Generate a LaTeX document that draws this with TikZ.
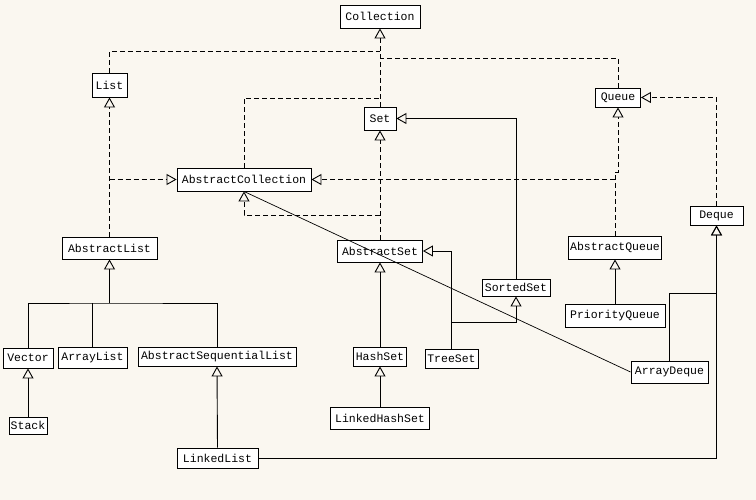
\documentclass[tikz,border=0pt]{standalone}
\usepackage{tikz}
\usetikzlibrary{arrows.meta}
\usepackage{fontspec}
\newfontfamily\clsfont{Liberation Mono}
\definecolor{paper}{RGB}{250,247,240}

\begin{document}
\begin{tikzpicture}[x=1pt, y=-1pt, line width=0.9pt,
		cls/.style={draw, fill=white, inner sep=1pt, minimum height=#1, font=\clsfont\fontsize{11.5}{12}\selectfont},
		cls/.default=21,
		gen/.style={-{Triangle[open, length=10pt, width=11pt]}},
		impl/.style={dash pattern=on 5pt off 3pt}]
				% Background:
				\fill[paper] (0,0) rectangle (756,500);
				% Classes and interfaces:
				\node[cls=23, minimum width=80] (Collection) at (380,16.5) {Collection};
				\node[cls=24, minimum width=35] (List) at (109.5,85) {List};
				\node[cls=23, minimum width=32] (Set) at (380,118.5) {Set};
				\node[cls=19, minimum width=45] (Queue) at (618,97.5) {Queue};
				\node[cls=23, minimum width=134] (AbstractCollection) at (244,179.5) {AbstractCollection};
				\node[cls=19, minimum width=53] (Deque) at (716.5,215.5) {Deque};
				\node[cls=22, minimum width=95] (AbstractList) at (109.5,248) {AbstractList};
				\node[cls=22, minimum width=85] (AbstractSet) at (380,251) {AbstractSet};
				\node[cls=23, minimum width=93] (AbstractQueue) at (615,247.5) {AbstractQueue};
				\node[cls=17, minimum width=68] (SortedSet) at (516,287.5) {SortedSet};
				\node[cls=23, minimum width=100] (PriorityQueue) at (615,315.5) {PriorityQueue};
				\node[cls=20, minimum width=50] (Vector) at (28,358) {Vector};
				\node[cls=21, minimum width=69] (ArrayList) at (92.5,357.5) {ArrayList};
				\node[cls=19, minimum width=158] (AbstractSequentialList) at (217,356.5) {AbstractSequentialList};
				\node[cls=19, minimum width=53] (HashSet) at (380,356.5) {HashSet};
				\node[cls=19, minimum width=53] (TreeSet) at (451.5,358.5) {TreeSet};
				\node[cls=22, minimum width=77] (ArrayDeque) at (669.5,372) {ArrayDeque};
				\node[cls=17, minimum width=38] (Stack) at (28,425.5) {Stack};
				\node[cls=22, minimum width=99] (LinkedHashSet) at (380,418) {LinkedHashSet};
				\node[cls=20, minimum width=81] (LinkedList) at (217.5,458) {LinkedList};
				% Bend points:
				\coordinate (jList) at (380,51);
				\coordinate (jQueue) at (380,58);
				\coordinate (jAC) at (380,98);
				\coordinate (jAS) at (380,215);
				\coordinate (jAQ) at (618,172);
				\coordinate (jTree) at (451.5,322);
				\coordinate (jAD) at (716.5,293);
				\coordinate (jAL) at (109.5,303);
				% Dashed links:
				\draw[impl, gen] (Set.north) -- (Collection.south);
				\draw[impl] (List.north) |- (jList);
				\draw[impl] (Queue.north) |- (jQueue);
				\draw[impl] (AbstractCollection.north) |- (jAC);
				\draw[impl, gen] (AbstractList.north) -- (List.south);
				\draw[impl, gen] (AbstractList.north |- AbstractCollection.west) -- (AbstractCollection.west);
				\draw[impl, gen] (AbstractSet.north) -- (Set.south);
				\draw[impl, gen] (jAS) -| (AbstractCollection.south);
				\draw[impl, gen] (AbstractQueue.north) |- (jAQ) -- (Queue.south);
				\draw[impl, gen] (AbstractQueue.north |- AbstractCollection.east) -- (AbstractCollection.east);
				\draw[impl, gen] (Deque.north) |- (Queue.east);
				% Solid links:
				\draw[gen] (SortedSet.north) |- (Set.east);
				\draw[gen] (TreeSet.north) |- (AbstractSet.east);
				\draw[gen] (jTree) -| (SortedSet.south);
				\draw[gen] (HashSet.north) -- (AbstractSet.south);
				\draw[gen] (LinkedHashSet.north) -- (HashSet.south);
				\draw[gen] (PriorityQueue.north) -- (AbstractQueue.south);
				\draw[gen] (ArrayDeque.north) |- (jAD) -- (Deque.south);
				\draw[gen] (LinkedList.east) -| (Deque.south);
				\draw[line width=0.7pt] (ArrayDeque.west) -- (AbstractCollection.south);
				\draw[gen] (jAL) -- (AbstractList.south);
				\draw (Vector.north) |- (jAL) -| (AbstractSequentialList.north);
				\draw (ArrayList.north) -- (ArrayList.north |- jAL);
				\draw[gen] (Stack.north) -- (Vector.south);
				\draw[gen] (LinkedList.north) -- (AbstractSequentialList.south);
\end{tikzpicture}
\end{document}
